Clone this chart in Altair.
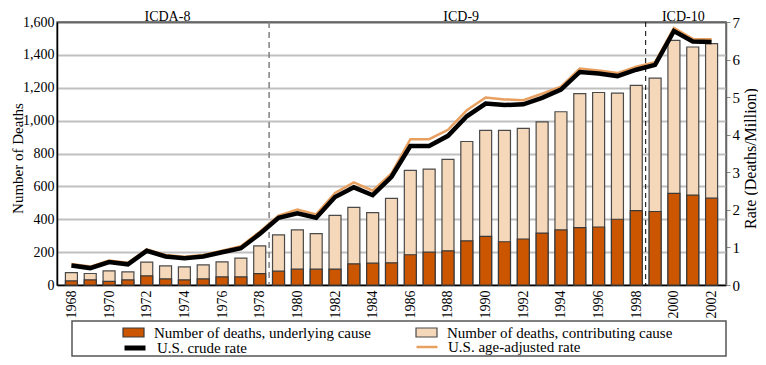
import altair as alt
import pandas as pd

years = list(range(1968, 2003))
contributing = [75, 70, 86, 80, 139, 116, 110, 122, 141, 163, 238, 305, 335, 312, 423,
                472, 440, 527, 697, 705, 764, 873, 941, 941, 953, 992, 1054, 1164, 1171,
                1167, 1215, 1258, 1488, 1448, 1468]
underlying = [25, 31, 22, 31, 56, 37, 31, 37, 49, 49, 69, 84, 96, 96, 97,
              129, 133, 135, 184, 200, 208, 269, 296, 263, 280, 316, 335, 349, 353,
              400, 453, 447, 557, 547, 528]
crude = [0.52, 0.45, 0.61, 0.55, 0.91, 0.76, 0.71, 0.76, 0.87, 0.98, 1.36, 1.79, 1.91,
         1.79, 2.34, 2.60, 2.39, 2.88, 3.70, 3.70, 3.97, 4.49, 4.83, 4.79, 4.81, 4.98,
         5.20, 5.67, 5.63, 5.56, 5.73, 5.86, 6.76, 6.48, 6.47]
age_adjusted = [0.56, 0.49, 0.65, 0.59, 0.95, 0.80, 0.75, 0.80, 0.91, 1.03, 1.42, 1.85,
                2.01, 1.88, 2.45, 2.73, 2.51, 2.97, 3.88, 3.88, 4.13, 4.65, 4.99, 4.94,
                4.92, 5.09, 5.28, 5.76, 5.71, 5.64, 5.81, 5.93, 6.84, 6.55, 6.54]
eras = ["ICDA-8", "ICD-9", "ICD-10"]
era_year = [1973.1, 1988.7, 2000.5]
revision_year = [1978.5, 1998.5]
year_ticks = list(range(1968, 2003, 2))
death_ticks = list(range(0, 1601, 200))
rate_ticks = list(range(0, 8))

L_UND = "Number of deaths, underlying cause"
L_CON = "Number of deaths, contributing cause"
L_CRU = "U.S. crude rate"
L_AGE = "U.S. age-adjusted rate"

C_UND = "#CC5500"
C_CON = "#F5D7B9"
C_CRU = "#000000"
C_AGE = "#E8A060"

FONT = "Liberation Serif"
W, H = 669, 263

df = pd.DataFrame({
    "year": years,
    "contributing": contributing,
    "underlying": underlying,
    "crude": crude,
    "age_adjusted": age_adjusted,
})
era_df = pd.DataFrame({"era": eras, "year": era_year})
rev1 = pd.DataFrame({"year": [revision_year[0]]})
rev2 = pd.DataFrame({"year": [revision_year[1]]})
frame_df = pd.DataFrame({"k": [0]})

x_scale = alt.Scale(domain=[1967.5, 2002.5], nice=False, zero=False)
x_axis = alt.Axis(values=year_ticks, format="d", labelAngle=-90, title=None,
                  ticks=False, grid=False, labelPadding=5, domainColor="black",
                  domainWidth=1.5, labelFontSize=14)


def xe(field="year"):
    return alt.X(f"{field}:Q", scale=x_scale, axis=x_axis)


left_axis = alt.Axis(
    values=death_ticks, format=",d", title="Number of Deaths", ticks=False,
    grid=True, gridWidth=2,
    gridColor=alt.condition("datum.value == 1600", alt.value("#666666"), alt.value("#C0C0C0")),
    labelPadding=3, domainColor="black", domainWidth=1.5,
    labelFontSize=14, titleFontSize=15,
    titleX=-35, titleY=136, titleAngle=270, titleBaseline="alphabetic",
)
left_scale = alt.Scale(domain=[0, 1600], nice=False)

right_axis = alt.Axis(
    values=rate_ticks, format="d", orient="right", title="Rate (Deaths/Million)", grid=False,
    tickColor="#888888", tickSize=4, domainColor="#666666", domainWidth=1.5,
    labelPadding=2, labelFontSize=15, titleFontSize=16,
    titleX=29, titleY=136, titleAngle=270, titleBaseline="alphabetic",
)
right_scale = alt.Scale(domain=[0, 7], nice=False)


def leg(x, y, **kw):
    return alt.Legend(orient="none", legendX=x, legendY=y, title=None, padding=0,
                      labelFont=FONT, labelFontSize=15, labelColor="black",
                      labelOffset=9, labelLimit=400, **kw)


rect_path = "M-1,-0.43L1,-0.43L1,0.43L-1,0.43Z"
ROW1, ROW2 = 299, 313
COL1, COL2 = 65, 358

base = alt.Chart(df)

con_bars = base.mark_bar(size=12, stroke="#4a4a4a", strokeWidth=1.2).transform_calculate(
    lab=f"'{L_CON}'"
).encode(
    x=xe(),
    y=alt.Y("contributing:Q", scale=left_scale, axis=left_axis),
    fill=alt.Fill("lab:N", scale=alt.Scale(domain=[L_CON], range=[C_CON]),
                  legend=leg(COL2, ROW1, symbolType=rect_path, symbolSize=441,
                             symbolStrokeColor="#4a4a4a", symbolStrokeWidth=1.2)),
)

und_bars = base.mark_bar(size=12, stroke="#3a3a3a", strokeWidth=1.2).transform_calculate(
    lab=f"'{L_UND}'"
).encode(
    x=xe(),
    y=alt.Y("underlying:Q", scale=left_scale, axis=left_axis),
    color=alt.Color("lab:N", scale=alt.Scale(domain=[L_UND], range=[C_UND]),
                    legend=leg(COL1, ROW1, symbolType=rect_path, symbolSize=441,
                               symbolStrokeColor="#3a3a3a", symbolStrokeWidth=1.2,
                               symbolOpacity=1)),
)

era_text = alt.Chart(era_df).mark_text(
    font=FONT, fontSize=14, color="black", baseline="alphabetic", dy=-1
).encode(
    x=xe(),
    y=alt.YDatum(1600, scale=left_scale, axis=left_axis),
    text="era:N",
)

frame = alt.Chart(frame_df).mark_rect(filled=False, stroke="#555555", strokeWidth=1.5).encode(
    x=alt.value(15), x2=alt.value(W), y=alt.value(299), y2=alt.value(334)
)

rule1 = alt.Chart(rev1).mark_rule(color="#808080", strokeWidth=1.5, strokeDash=[6, 4]).encode(
    x=xe()
)
rule2 = alt.Chart(rev2).mark_rule(color="#000000", strokeWidth=1, strokeDash=[5, 4]).encode(
    x=xe()
)

age_line = base.mark_line(stroke=C_AGE, strokeWidth=2.5).transform_calculate(
    lab=f"'{L_AGE}'"
).encode(
    x=xe(),
    y=alt.Y("age_adjusted:Q", scale=right_scale, axis=right_axis),
    opacity=alt.Opacity("lab:N", scale=alt.Scale(domain=[L_AGE], range=[1]),
                        legend=leg(COL2, ROW2, symbolType="stroke", symbolSize=441,
                                   symbolStrokeColor=C_AGE, symbolStrokeWidth=2.5)),
)

crude_line = base.mark_line(strokeWidth=4.5).transform_calculate(
    lab=f"'{L_CRU}'"
).encode(
    x=xe(),
    y=alt.Y("crude:Q", scale=right_scale, axis=right_axis),
    stroke=alt.Stroke("lab:N", scale=alt.Scale(domain=[L_CRU], range=[C_CRU]),
                      legend=leg(COL1, ROW2, symbolType="stroke", symbolSize=441,
                                 symbolStrokeWidth=5)),
)

left_layer = alt.layer(con_bars, und_bars, era_text, frame)
right_layer = alt.layer(rule1, rule2, age_line, crude_line)

chart = alt.layer(left_layer, right_layer).resolve_scale(
    y="independent", color="independent", fill="independent",
    stroke="independent", opacity="independent"
).properties(
    width=W, height=H,
    autosize=alt.AutoSizeParams(type="none"),
    padding={"left": 49, "top": 14, "right": 32, "bottom": 72},
).configure_view(
    stroke="#666666", strokeWidth=1.5
).configure_axis(
    labelFont=FONT, titleFont=FONT, labelColor="black", titleColor="black",
    titleFontWeight="normal"
)

chart.save("out.html", embed_options={"renderer": "svg", "actions": False})
